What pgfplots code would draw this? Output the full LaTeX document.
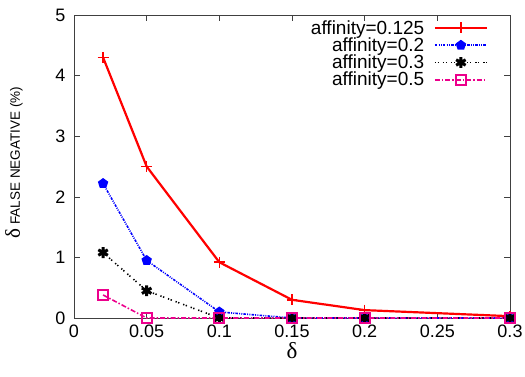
\documentclass[border=0pt]{standalone}
\usepackage{pgfplots}
\pgfplotsset{compat=1.18}
\usepackage{fontspec}
\setmainfont{Liberation Sans}
\newfontfamily\serifd{Liberation Serif}
\begin{document}
\begin{tikzpicture}
\begin{axis}[
  scale only axis,
  width=436bp, height=303bp,
  xmin=0, xmax=0.3, ymin=0, ymax=5,
  xtick={0,0.05,0.1,0.15,0.2,0.25,0.3},
  xticklabels={0,0.05,0.1,0.15,0.2,0.25,0.3},
  ytick={0,1,2,3,4,5},
  yticklabels={0,1,2,3,4,5},
  tick align=inside,
  tick pos=both,
  major tick length=6bp,
  axis line style={black!75, line width=0.6pt},
  tick style={black!75, line width=0.6pt},
  tick label style={font=\fontsize{18bp}{20bp}\selectfont},
  xticklabel style={yshift=-3bp},
  yticklabel style={xshift=-5bp},
  xlabel={\serifd\fontsize{23bp}{24bp}\selectfont δ},
  ylabel={\serifd\fontsize{21bp}{22bp}\selectfont δ\,\rmfamily\fontsize{13.5bp}{15bp}\selectfont FALSE NEGATIVE (\%)},
  xlabel style={yshift=2bp},
  ylabel style={yshift=26bp, xshift=4bp},
  legend style={draw=none, fill=none, at={(0.95,0.985)}, anchor=north east,
    font=\fontsize{19bp}{20bp}\selectfont, row sep=0.8bp, column sep=9bp, inner sep=0bp,
    nodes={inner sep=0.6bp}},
  legend cell align=right,
  legend plot pos=right,
  legend image code/.code={\draw[mark repeat=2,mark phase=2] plot coordinates {(0bp,0bp) (26bp,0bp) (52bp,0bp)};},
]
\addplot[red, line width=2.2pt, mark=+, mark size=5.5pt, mark options={line width=1.6pt}]
  coordinates {(0.02,4.3) (0.05,2.5) (0.1,0.92) (0.15,0.3) (0.2,0.13) (0.3,0.03)};
\addlegendentry{affinity=0.125}
\addplot[blue, line width=1.6pt, dash pattern=on 2.5pt off 1.2pt on 1pt off 1.2pt on 1pt off 1.2pt, mark=pentagon*, mark size=4.5pt, mark options={solid}]
  coordinates {(0.02,2.22) (0.05,0.95) (0.1,0.1) (0.15,0) (0.2,0) (0.3,0)};
\addlegendentry{affinity=0.2}
\addplot[black, line width=1.6pt, dash pattern=on 1.3pt off 1.5pt on 1.3pt off 4pt, mark=asterisk, mark size=5.5pt, mark options={solid, line width=3pt}]
  coordinates {(0.02,1.08) (0.05,0.45) (0.1,0) (0.15,0) (0.2,0) (0.3,0)};
\addlegendentry{affinity=0.3}
\addplot[magenta, line width=1.6pt, dash pattern=on 5pt off 2pt on 1.5pt off 2pt, mark=square, mark size=5pt, mark options={solid, line width=2pt}]
  coordinates {(0.02,0.38) (0.05,0) (0.1,0) (0.15,0) (0.2,0) (0.3,0)};
\addlegendentry{affinity=0.5}
\end{axis}
\pgfresetboundingbox
\path[use as bounding box] (-74bp,-59bp) rectangle (451bp,318bp);
\end{tikzpicture}
\end{document}
